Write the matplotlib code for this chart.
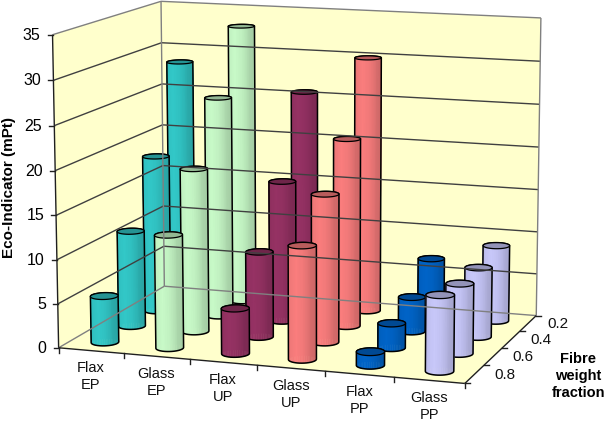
import numpy as np
import matplotlib
matplotlib.use("Agg")
import matplotlib.pyplot as plt
from matplotlib.colors import to_rgb

plt.rcParams["font.family"] = ["Liberation Sans", "DejaVu Sans"]

# ---- data (rows run from fibre fraction 0.2 at the back to 0.8 at the front)
categories = ["Flax\nEP", "Glass\nEP", "Flax\nUP", "Glass\nUP", "Flax\nPP", "Glass\nPP"]
fractions = ["0.2", "0.4", "0.6", "0.8"]
flax_ep = [28.4, 18.4, 11.1, 5.3]
glass_ep = [33.0, 25.7, 18.8, 12.8]
flax_up = [25.6, 16.4, 9.8, 5.1]
glass_up = [30.0, 21.8, 16.9, 12.7]
flax_pp = [6.8, 4.0, 2.8, 1.5]
glass_pp = [8.9, 8.0, 7.9, 8.4]
y_ticks = [0, 5, 10, 15, 20, 25, 30, 35]

series = [flax_ep, glass_ep, flax_up, glass_up, flax_pp, glass_pp]
colors = ["#33CCCC", "#CCFFCC", "#993366", "#FF8080", "#0066CC", "#CCCCFF"]

WALL = "#FFFFCC"
EDGE = "#808080"
GRID = "#404040"
Z_MAX = 35.0

# ---- projection: fit a perspective camera to the corners of the plot box
box = [(0, 0, 0), (6, 0, 0), (6, 4, 0), (0, 4, 0), (0, 0, 35), (0, 4, 35), (6, 4, 35)]
pix = [(58, 347), (465, 384), (536, 315), (165, 287), (53, 35), (160.5, 1), (541, 18)]


def fit_camera(world, screen):
    rows, rhs = [], []
    for (x, y, z), (u, v) in zip(world, screen):
        x, y, z = x / 6, y / 4, z / Z_MAX
        rows.append([x, y, z, 1, 0, 0, 0, 0, -u * x, -u * y, -u * z])
        rows.append([0, 0, 0, 0, x, y, z, 1, -v * x, -v * y, -v * z])
        rhs += [u, v]
    sol = np.linalg.lstsq(np.array(rows, float), np.array(rhs, float), rcond=None)[0]
    return np.append(sol, 1.0).reshape(3, 4)


CAM = fit_camera(box, pix)


def project(x, y, z):
    x, y, z = np.broadcast_arrays(np.asarray(x, float), np.asarray(y, float), np.asarray(z, float))
    w = np.stack([x / 6, y / 4, z / Z_MAX, np.ones_like(x, float)])
    p = CAM @ w.reshape(4, -1)
    return (p[0] / p[2]).reshape(x.shape), (p[1] / p[2]).reshape(x.shape)


def line3d(ax, a, b, **kw):
    u, v = project([a[0], b[0]], [a[1], b[1]], [a[2], b[2]])
    ax.plot(u, v, solid_capstyle="butt", **kw)


def hull(pts):
    pts = sorted(set(map(tuple, pts)))

    def half(seq):
        out = []
        for p in seq:
            while len(out) > 1 and (out[-1][0] - out[-2][0]) * (p[1] - out[-2][1]) - (out[-1][1] - out[-2][1]) * (p[0] - out[-2][0]) <= 0:
                out.pop()
            out.append(p)
        return out[:-1]

    return np.array(half(pts) + half(pts[::-1]))


def cylinder(ax, cx, cy, height, color, rx=0.195, ry=0.21):
    base = np.array(to_rgb(color))
    t = np.linspace(0, 2 * np.pi, 49)
    xs, ys = cx + rx * np.cos(t), cy + ry * np.sin(t)
    ub, vb = project(xs, ys, 0 * t)
    ut, vt = project(xs, ys, height + 0 * t)
    left, right = min(ub.min(), ut.min()), max(ub.max(), ut.max())

    # strips from the far side round to the near side, shaded by screen position
    order = np.argsort(vb[:-1] + vb[1:])
    for k in order:
        frac = ((ub[k] + ub[k + 1]) / 2 - left) / (right - left)
        shade = np.interp(frac, [0, 0.12, 0.3, 0.5, 0.72, 0.78, 1], [0.90, 0.95, 0.98, 0.95, 0.88, 0.84, 0.80])
        c = tuple(np.clip(base * shade, 0, 1))
        ax.fill([ub[k], ub[k + 1], ut[k + 1], ut[k]], [vb[k], vb[k + 1], vt[k + 1], vt[k]],
                facecolor=c, edgecolor=c, linewidth=0.4)

    outline = hull(np.column_stack([np.r_[ub, ut], np.r_[vb, vt]]))
    ax.fill(outline[:, 0], outline[:, 1], facecolor="none", edgecolor="black", linewidth=1.1, joinstyle="round")
    ax.fill(ut, vt, facecolor=tuple(base * 0.72), edgecolor="black", linewidth=0.9)


# ---- figure
fig = plt.figure(figsize=(6.07, 4.25), dpi=100)
ax = fig.add_axes([0, 0, 1, 1])
ax.set_xlim(0, 607)
ax.set_ylim(425, 0)
ax.axis("off")

# walls and floor
for quad in ([(0, 0, 0), (0, 4, 0), (0, 4, 35), (0, 0, 35)],
             [(0, 4, 0), (6, 4, 0), (6, 4, 35), (0, 4, 35)],
             [(0, 0, 0), (6, 0, 0), (6, 4, 0), (0, 4, 0)]):
    q = np.array(quad, float)
    u, v = project(q[:, 0], q[:, 1], q[:, 2])
    ax.fill(u, v, facecolor=WALL, edgecolor="none")

for val in y_ticks:
    col = EDGE if val in (0, 35) else GRID
    line3d(ax, (0, 0, val), (0, 4, val), color=col, lw=1.0)
    line3d(ax, (0, 4, val), (6, 4, val), color=col, lw=1.0)

line3d(ax, (0, 4, 0), (0, 4, 35), color=EDGE, lw=1.0)
line3d(ax, (6, 4, 0), (6, 4, 35), color=EDGE, lw=1.0)

# axis lines and ticks
line3d(ax, (0, 0, 0), (0, 0, 35), color="#202020", lw=1.0)
line3d(ax, (0, 0, 0), (6, 0, 0), color="#202020", lw=1.0)
line3d(ax, (6, 0, 0), (6, 4, 0), color="#202020", lw=1.0)

for val in y_ticks:
    u, v = project(0, 0, val)
    ax.plot([u - 5, u], [v, v], color="#202020", lw=1.0)
    ax.text(u - 12, v + 0.5, str(val), ha="right", va="center", fontsize=11.5, color="black")

for i in range(7):
    u, v = project(i, 0, 0)
    ax.plot([u, u], [v, v + 5], color="#202020", lw=1.0)
for i, name in enumerate(categories):
    u, v = project(i + 0.5, 0, 0)
    ax.text(u, v + 26, name, ha="center", va="center", fontsize=10.5, color="#111111", linespacing=1.25)

for j in range(5):
    u, v = project(6, j, 0)
    ax.plot([u, u + 5], [v, v], color="#202020", lw=1.0)
for j, name in enumerate(fractions):
    u, v = project(6, 3.5 - j, 0)
    ax.text(u + 30, v + 1, name, ha="center", va="center", fontsize=11, color="#111111")

ax.text(9, 188, "Eco-Indicator (mPt)", rotation=90, ha="center", va="center", fontsize=11, fontweight="bold")
ax.text(578, 376, "Fibre\nweight\nfraction", ha="center", va="center", fontsize=10.5, fontweight="bold", linespacing=1.3)

# cylinders, painted from the farthest base to the nearest
bars = []
for i, vals in enumerate(series):
    for j, val in enumerate(vals):
        cx, cy = i + 0.5, 3.5 - j
        bars.append((float(project(cx, cy, 0)[1]), cx, cy, val, colors[i]))
for _, cx, cy, val, col in sorted(bars, key=lambda b: b[0]):
    cylinder(ax, cx, cy, val, col)

fig.savefig("out.png", dpi=100)
